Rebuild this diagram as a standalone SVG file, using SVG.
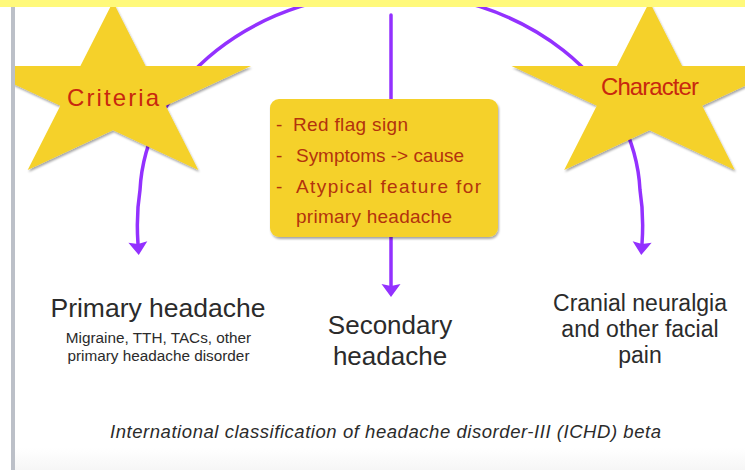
<svg xmlns="http://www.w3.org/2000/svg" width="745" height="470" viewBox="0 0 745 470">
  <defs>
    <style>
      .conn { fill: none; stroke: #9331FF; stroke-width: 3.5; stroke-linecap: round; stroke-linejoin: round; }
      .star { fill: #F5D12B; }
      .hand { font-family: "Liberation Sans", "DejaVu Sans", sans-serif; }
      .star-label { fill: #C8280F; font-size: 24px; text-anchor: middle; }
      .note { fill: #B3330D; font-size: 19px; }
      .label { font-family: "Liberation Sans", Arial, sans-serif; fill: #2B2B2B; text-anchor: middle; }
    </style>
    <filter id="shadow" x="-10%" y="-10%" width="125%" height="130%">
      <feDropShadow dx="1" dy="2" stdDeviation="1.2" flood-color="#000" flood-opacity="0.35"/>
    </filter>
    <marker id="head" markerUnits="userSpaceOnUse" viewBox="-2 -10 16 20" refX="2" refY="0" markerWidth="16" markerHeight="20" orient="auto">
      <path d="M0,-9.5 L13,0 L0,9.5 L2,0 Z" fill="#9331FF"/>
    </marker>
    <!-- five-point star, stretched horizontally, centred on its own origin -->
    <path id="starShape" d="M0,-93 L32.6,-28.7 L138,-28.7 L52.7,11 L85.3,75.2 L0,35.5 L-85.3,75.2 L-52.7,11 L-138,-28.7 L-32.6,-28.7 Z"/>
    <clipPath id="slide"><rect x="13" y="0" width="732" height="470"/></clipPath>
    <linearGradient id="floor" x1="0" y1="0" x2="0" y2="1">
      <stop offset="0" stop-color="#FFFFFF"/>
      <stop offset="1" stop-color="#F6F6F6"/>
    </linearGradient>
  </defs>

  <!-- background -->
  <rect x="0" y="0" width="745" height="470" fill="#FFFFFF"/>
  <rect x="15" y="448" width="730" height="22" fill="url(#floor)"/>

  <!-- connectors -->
  <g id="connectors">
    <path id="criteria-to-primary" class="conn" d="M390,-7.5 A252,206 0 0 0 140,190 Q136,215 138,244" marker-end="url(#head)"/>
    <path id="character-to-cranial" class="conn" d="M390,-7.5 A252,206 0 0 1 640,190 Q644,215 642,244" marker-end="url(#head)"/>
    <path id="flags-to-secondary" class="conn" d="M391,15 L391,286" marker-end="url(#head)"/>
  </g>

  <!-- Criteria star -->
  <g id="criteria" clip-path="url(#slide)">
    <use href="#starShape" class="star" transform="translate(113,94.7)" filter="url(#shadow)"/>
    <text class="hand star-label" x="113" y="106" textLength="92">Criteria</text>
  </g>

  <!-- Character star -->
  <g id="character">
    <use href="#starShape" class="star" transform="translate(649.5,94.7)" filter="url(#shadow)"/>
    <text class="hand star-label" x="650" y="95" textLength="98">Character</text>
  </g>

  <!-- note box on the secondary branch -->
  <g id="flags">
    <rect x="270" y="99" width="228" height="138" rx="9" ry="9" class="star" filter="url(#shadow)"/>
    <text class="hand note" x="276" y="131">-</text>
    <text class="hand note" x="293" y="131" textLength="115">Red flag sign</text>
    <text class="hand note" x="276" y="162">-</text>
    <text class="hand note" x="296" y="162" textLength="168">Symptoms -&gt; cause</text>
    <text class="hand note" x="276" y="193">-</text>
    <text class="hand note" x="296" y="193" textLength="185">Atypical feature for</text>
    <text class="hand note" x="296" y="223" textLength="156">primary headache</text>
  </g>

  <!-- outcome labels -->
  <g id="primary">
    <text class="label" x="158" y="317" font-size="26.5">Primary headache</text>
    <text class="label" x="158.5" y="343" font-size="15.3">Migraine, TTH, TACs, other</text>
    <text class="label" x="158.5" y="361" font-size="15.3">primary headache disorder</text>
  </g>
  <g id="secondary">
    <text class="label" x="390" y="334" font-size="26">Secondary</text>
    <text class="label" x="390" y="365" font-size="26">headache</text>
  </g>
  <g id="cranial">
    <text class="label" x="640" y="311" font-size="23">Cranial neuralgia</text>
    <text class="label" x="640" y="337" font-size="23">and other facial</text>
    <text class="label" x="640" y="363" font-size="23">pain</text>
  </g>

  <g id="caption">
    <text class="label" x="385.5" y="438" font-size="18.5" font-style="italic" fill="#333" textLength="551">International classification of headache disorder-III (ICHD) beta</text>
  </g>

  <!-- slide frame -->
  <rect x="0" y="0" width="745" height="7" fill="#FFF97B"/>
  <rect x="11" y="7" width="4" height="463" fill="#BCC0C8"/>
</svg>
